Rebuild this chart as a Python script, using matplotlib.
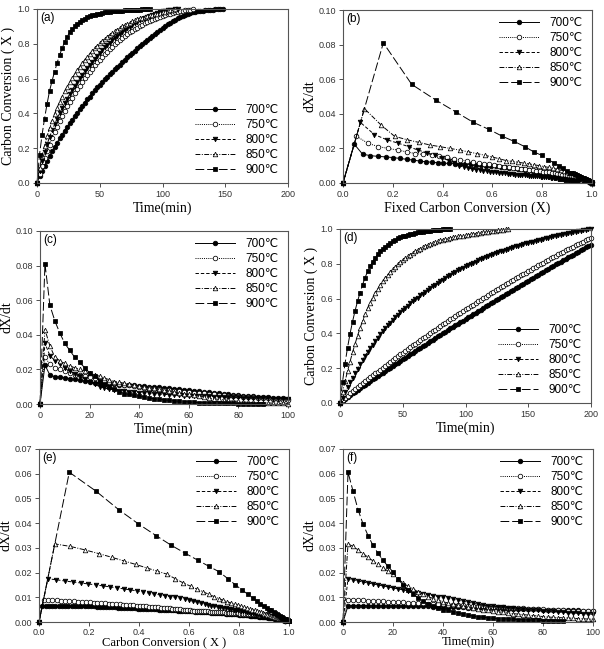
import matplotlib.pyplot as plt
from matplotlib.ticker import MultipleLocator, FormatStrFormatter
import numpy as np

DT = 2  # min between two records

temps = ['700', '750', '800', '850', '900']

# ---------------- run 1 : panels (a) (b) (c) ----------------
# carbon conversion vs time, panel (a)
conv1_700 = [0, 0.038, 0.071, 0.100, 0.129, 0.156, 0.182, 0.208, 0.232, 0.256, 0.278,
             0.301, 0.323, 0.343, 0.364, 0.385, 0.405, 0.424, 0.443, 0.462, 0.480,
             0.497, 0.515, 0.532, 0.549, 0.564, 0.580, 0.596, 0.611, 0.625, 0.639,
             0.653, 0.667, 0.681, 0.695, 0.708, 0.722, 0.734, 0.748, 0.760, 0.773,
             0.786, 0.798, 0.810, 0.822, 0.834, 0.846, 0.857, 0.868, 0.879, 0.890,
             0.901, 0.911, 0.920, 0.929, 0.938, 0.946, 0.953, 0.959, 0.966, 0.972,
             0.976, 0.980, 0.983, 0.986, 0.988, 0.991, 0.992, 0.995, 0.996, 0.997,
             0.998, 0.999, 0.999, 1.000]
conv1_750 = [0, 0.054, 0.100, 0.143, 0.183, 0.221, 0.257, 0.291, 0.323, 0.354, 0.384,
             0.413, 0.440, 0.466, 0.491, 0.515, 0.538, 0.560, 0.581, 0.601, 0.621,
             0.640, 0.658, 0.676, 0.693, 0.709, 0.725, 0.740, 0.755, 0.769, 0.783,
             0.796, 0.809, 0.821, 0.833, 0.844, 0.855, 0.865, 0.875, 0.884, 0.893,
             0.902, 0.910, 0.918, 0.925, 0.932, 0.939, 0.945, 0.951, 0.956, 0.961,
             0.966, 0.970, 0.974, 0.978, 0.981, 0.984, 0.987, 0.990, 0.992, 0.994,
             0.996, 1.000]
conv1_800 = [0, 0.070, 0.126, 0.176, 0.222, 0.264, 0.302, 0.337, 0.370, 0.400, 0.430,
             0.458, 0.485, 0.510, 0.535, 0.558, 0.580, 0.601, 0.622, 0.642, 0.661,
             0.680, 0.698, 0.715, 0.732, 0.748, 0.764, 0.779, 0.793, 0.807, 0.820,
             0.833, 0.845, 0.857, 0.868, 0.879, 0.889, 0.899, 0.908, 0.917, 0.926,
             0.934, 0.942, 0.949, 0.956, 0.962, 0.968, 0.973, 0.978, 0.982, 0.986,
             0.989, 0.992, 0.995, 0.997, 0.999, 1.000]
conv1_850 = [0, 0.086, 0.155, 0.215, 0.268, 0.315, 0.358, 0.397, 0.433, 0.466, 0.497,
             0.526, 0.553, 0.578, 0.602, 0.625, 0.647, 0.668, 0.688, 0.707, 0.725,
             0.742, 0.759, 0.774, 0.789, 0.803, 0.816, 0.829, 0.841, 0.852, 0.863,
             0.873, 0.882, 0.891, 0.900, 0.908, 0.915, 0.922, 0.929, 0.935, 0.941,
             0.946, 0.951, 0.956, 0.960, 0.964, 0.968, 0.971, 0.974, 0.977, 0.980,
             0.984, 0.988, 0.992, 0.996, 1.000]
conv1_900 = [0, 0.163, 0.275, 0.370, 0.454, 0.529, 0.587, 0.640, 0.690, 0.735, 0.775,
             0.810, 0.840, 0.865, 0.885, 0.900, 0.915, 0.927, 0.937, 0.945, 0.952,
             0.958, 0.963, 0.967, 0.971, 0.974, 0.977, 0.980, 0.982, 0.984, 0.986,
             0.988, 0.989, 0.990, 0.991, 0.992, 0.993, 0.994, 0.995, 0.996, 0.997,
             0.997, 0.998, 0.998, 0.999, 1.000]

# dX/dt vs time, panel (c)
rate1_700 = [0, 0.0225, 0.0167, 0.0158, 0.0154, 0.0151, 0.0147, 0.0142, 0.0137, 0.0132, 0.0127,
             0.0123, 0.0120, 0.0117, 0.0115, 0.0113, 0.0112, 0.0110, 0.0109, 0.0107, 0.0105,
             0.0103, 0.0101, 0.0099, 0.0096, 0.0093, 0.0091, 0.0088, 0.0085, 0.0082, 0.0079,
             0.0076, 0.0073, 0.0070, 0.0067, 0.0064, 0.0061, 0.0058, 0.0055, 0.0053, 0.0051,
             0.0049, 0.0047, 0.0045, 0.0043, 0.0041, 0.0039, 0.0037, 0.0035, 0.0033, 0.0031,
             0.0029, 0.0028, 0.0026, 0.0025, 0.0024, 0.0022, 0.0021, 0.0020, 0.0019, 0.0018,
             0.0017, 0.0016, 0.0015, 0.0014, 0.0013, 0.0012, 0.0011, 0.0010, 0.0009, 0.0008,
             0.0008, 0.0007, 0.0006, 0.0005]
rate1_750 = [0, 0.0270, 0.0230, 0.0210, 0.0200, 0.0190, 0.0180, 0.0170, 0.0165, 0.0163, 0.0158,
             0.0148, 0.0140, 0.0133, 0.0127, 0.0121, 0.0116, 0.0111, 0.0107, 0.0103, 0.0099,
             0.0095, 0.0091, 0.0088, 0.0085, 0.0082, 0.0079, 0.0076, 0.0073, 0.0070, 0.0068,
             0.0066, 0.0063, 0.0061, 0.0058, 0.0056, 0.0053, 0.0051, 0.0049, 0.0046, 0.0044,
             0.0042, 0.0040, 0.0038, 0.0036, 0.0034, 0.0032, 0.0030, 0.0028, 0.0026, 0.0024,
             0.0023, 0.0021, 0.0019, 0.0017, 0.0015, 0.0013, 0.0011, 0.0009, 0.0008, 0.0006,
             0.0005, 0.0004]
rate1_800 = [0, 0.0350, 0.0280, 0.0250, 0.0230, 0.0210, 0.0190, 0.0175, 0.0160, 0.0145, 0.0130,
             0.0115, 0.0100, 0.0092, 0.0086, 0.0082, 0.0078, 0.0075, 0.0072, 0.0069, 0.0066,
             0.0064, 0.0062, 0.0060, 0.0058, 0.0056, 0.0054, 0.0052, 0.0050, 0.0049, 0.0048,
             0.0047, 0.0046, 0.0045, 0.0044, 0.0043, 0.0042, 0.0041, 0.0040, 0.0039, 0.0038,
             0.0037, 0.0036, 0.0035, 0.0034, 0.0033, 0.0032, 0.0031, 0.0030, 0.0029, 0.0028,
             0.0027, 0.0026, 0.0025, 0.0024, 0.0023, 0.0022, 0.0021, 0.0020, 0.0019, 0.0018,
             0.0017, 0.0016, 0.0016, 0.0015, 0.0015, 0.0014, 0.0014, 0.0013, 0.0013, 0.0012,
             0.0012, 0.0012, 0.0011, 0.0011, 0.0011, 0.0010, 0.0010, 0.0010, 0.0009, 0.0009]
rate1_850 = [0, 0.0430, 0.0335, 0.0270, 0.0250, 0.0235, 0.0220, 0.0210, 0.0200, 0.0190, 0.0180,
             0.0170, 0.0160, 0.0150, 0.0140, 0.0130, 0.0125, 0.0120, 0.0115, 0.0110, 0.0105,
             0.0100, 0.0095, 0.0090, 0.0085, 0.0080, 0.0075, 0.0070, 0.0065, 0.0060, 0.0055,
             0.0050, 0.0045, 0.0040, 0.0035, 0.0030, 0.0027, 0.0024, 0.0021, 0.0018, 0.0015,
             0.0012, 0.0010, 0.0009, 0.0008, 0.0007, 0.0006, 0.0005, 0.0004, 0.0003, 0.0002,
             0.0002, 0.0001, 0.0001]
rate1_900 = [0, 0.0810, 0.0570, 0.0480, 0.0410, 0.0350, 0.0310, 0.0270, 0.0240, 0.0210, 0.0180,
             0.0160, 0.0135, 0.0115, 0.0100, 0.0085, 0.0070, 0.0060, 0.0055, 0.0050, 0.0045,
             0.0040, 0.0035, 0.0030, 0.0027, 0.0024, 0.0021, 0.0018, 0.0016, 0.0014, 0.0012,
             0.0009, 0.0008, 0.0007, 0.0006, 0.0005, 0.0004, 0.0004, 0.0003, 0.0003, 0.0002,
             0.0002, 0.0002, 0.0001, 0.0001, 0.0001]

# ---------------- run 2 : panels (d) (e) (f) ----------------
# carbon conversion vs time, panel (d)
conv2_700 = [0, 0.013, 0.025, 0.036, 0.046, 0.056, 0.066, 0.077, 0.087, 0.097, 0.106,
             0.116, 0.126, 0.136, 0.145, 0.155, 0.165, 0.175, 0.184, 0.194, 0.204,
             0.213, 0.223, 0.232, 0.242, 0.251, 0.261, 0.270, 0.280, 0.289, 0.299,
             0.308, 0.317, 0.327, 0.336, 0.346, 0.355, 0.364, 0.373, 0.383, 0.392,
             0.401, 0.410, 0.419, 0.429, 0.438, 0.447, 0.456, 0.465, 0.474, 0.483,
             0.492, 0.501, 0.510, 0.519, 0.528, 0.537, 0.546, 0.555, 0.564, 0.572,
             0.581, 0.590, 0.599, 0.608, 0.616, 0.625, 0.634, 0.643, 0.651, 0.660,
             0.669, 0.677, 0.686, 0.694, 0.703, 0.711, 0.720, 0.728, 0.737, 0.745,
             0.754, 0.762, 0.771, 0.779, 0.787, 0.796, 0.804, 0.812, 0.820, 0.829,
             0.837, 0.845, 0.853, 0.862, 0.870, 0.878, 0.886, 0.894, 0.902, 0.910]
conv2_750 = [0, 0.016, 0.030, 0.043, 0.056, 0.068, 0.079, 0.091, 0.103, 0.114, 0.126,
             0.137, 0.148, 0.159, 0.170, 0.181, 0.192, 0.203, 0.214, 0.225, 0.236,
             0.247, 0.257, 0.268, 0.279, 0.289, 0.300, 0.310, 0.320, 0.331, 0.341,
             0.351, 0.362, 0.372, 0.382, 0.392, 0.402, 0.412, 0.422, 0.432, 0.442,
             0.452, 0.462, 0.471, 0.481, 0.491, 0.500, 0.510, 0.519, 0.529, 0.538,
             0.547, 0.557, 0.566, 0.575, 0.584, 0.594, 0.603, 0.612, 0.621, 0.630,
             0.639, 0.647, 0.656, 0.665, 0.674, 0.682, 0.691, 0.700, 0.708, 0.717,
             0.725, 0.733, 0.742, 0.750, 0.758, 0.767, 0.775, 0.783, 0.791, 0.799,
             0.807, 0.815, 0.823, 0.831, 0.838, 0.846, 0.854, 0.862, 0.869, 0.877,
             0.884, 0.892, 0.899, 0.907, 0.914, 0.921, 0.928, 0.936, 0.943, 0.950]
conv2_800 = [0, 0.031, 0.061, 0.090, 0.118, 0.145, 0.172, 0.198, 0.223, 0.247, 0.270,
             0.293, 0.315, 0.336, 0.356, 0.376, 0.395, 0.413, 0.430, 0.446, 0.462,
             0.478, 0.492, 0.507, 0.521, 0.534, 0.547, 0.560, 0.572, 0.584, 0.595,
             0.606, 0.618, 0.629, 0.639, 0.650, 0.660, 0.671, 0.681, 0.690, 0.700,
             0.709, 0.719, 0.728, 0.736, 0.745, 0.753, 0.762, 0.770, 0.777, 0.785,
             0.792, 0.800, 0.807, 0.813, 0.820, 0.826, 0.833, 0.839, 0.844, 0.850,
             0.855, 0.861, 0.866, 0.871, 0.876, 0.881, 0.886, 0.890, 0.895, 0.900,
             0.904, 0.908, 0.912, 0.917, 0.921, 0.924, 0.928, 0.932, 0.936, 0.939,
             0.943, 0.947, 0.950, 0.953, 0.957, 0.960, 0.963, 0.967, 0.970, 0.973,
             0.976, 0.979, 0.982, 0.984, 0.987, 0.990, 0.992, 0.995, 0.998, 1.000]
conv2_850 = [0, 0.063, 0.124, 0.183, 0.238, 0.291, 0.340, 0.387, 0.430, 0.472, 0.510,
             0.545, 0.577, 0.606, 0.633, 0.657, 0.679, 0.700, 0.719, 0.737, 0.753,
             0.768, 0.783, 0.796, 0.809, 0.821, 0.832, 0.843, 0.853, 0.862, 0.871,
             0.879, 0.887, 0.894, 0.901, 0.908, 0.914, 0.919, 0.924, 0.929, 0.934,
             0.938, 0.941, 0.945, 0.948, 0.952, 0.955, 0.957, 0.960, 0.962, 0.965,
             0.967, 0.969, 0.971, 0.973, 0.976, 0.978, 0.980, 0.982, 0.984, 0.986,
             0.988, 0.990, 0.992, 0.994, 0.996, 0.998, 1.000]
conv2_900 = [0, 0.121, 0.227, 0.318, 0.398, 0.468, 0.530, 0.585, 0.635, 0.680, 0.721,
             0.756, 0.786, 0.812, 0.834, 0.854, 0.871, 0.886, 0.899, 0.910, 0.920,
             0.930, 0.938, 0.946, 0.952, 0.958, 0.962, 0.967, 0.970, 0.974, 0.977,
             0.980, 0.982, 0.985, 0.987, 0.989, 0.991, 0.992, 0.994, 0.995, 0.996,
             0.998, 0.999, 0.999, 1.000]

# dX/dt vs time, panel (f)
rate2_700 = [0, 0.0065, 0.0066, 0.0066, 0.0066, 0.0066, 0.0065, 0.0065, 0.0065, 0.0065, 0.0065,
             0.0065, 0.0064, 0.0064, 0.0064, 0.0063, 0.0063, 0.0063, 0.0062, 0.0062, 0.0062,
             0.0061, 0.0060, 0.0060, 0.0059, 0.0058, 0.0058, 0.0057, 0.0056, 0.0056, 0.0055,
             0.0055, 0.0054, 0.0054, 0.0053, 0.0053, 0.0052, 0.0052, 0.0051, 0.0051, 0.0050,
             0.0050, 0.0049, 0.0049, 0.0048, 0.0048, 0.0047, 0.0047, 0.0046, 0.0046, 0.0045,
             0.0045, 0.0044, 0.0044, 0.0043, 0.0043, 0.0042, 0.0042, 0.0041, 0.0041, 0.0040,
             0.0040, 0.0039, 0.0039, 0.0038, 0.0038, 0.0037, 0.0037, 0.0036, 0.0036, 0.0035,
             0.0035, 0.0034, 0.0034, 0.0033, 0.0033, 0.0032, 0.0032, 0.0031, 0.0031, 0.0030,
             0.0030, 0.0029, 0.0029, 0.0028, 0.0028, 0.0027, 0.0027, 0.0026, 0.0026, 0.0025,
             0.0025, 0.0024, 0.0024, 0.0023, 0.0023, 0.0022, 0.0022, 0.0021, 0.0021, 0.0020,
             0.0020, 0.0020, 0.0019, 0.0019, 0.0018, 0.0018, 0.0017, 0.0017, 0.0016, 0.0016,
             0.0015, 0.0015, 0.0014, 0.0014, 0.0013, 0.0013, 0.0012, 0.0012, 0.0011, 0.0011]
rate2_750 = [0, 0.0090, 0.0089, 0.0088, 0.0087, 0.0086, 0.0085, 0.0084, 0.0083, 0.0082, 0.0081,
             0.0080, 0.0079, 0.0078, 0.0077, 0.0076, 0.0075, 0.0074, 0.0073, 0.0072, 0.0071,
             0.0070, 0.0069, 0.0068, 0.0067, 0.0066, 0.0065, 0.0064, 0.0063, 0.0062, 0.0061,
             0.0060, 0.0059, 0.0058, 0.0057, 0.0056, 0.0055, 0.0054, 0.0053, 0.0052, 0.0051,
             0.0050, 0.0049, 0.0048, 0.0047, 0.0046, 0.0046, 0.0045, 0.0045, 0.0044, 0.0044,
             0.0043, 0.0043, 0.0042, 0.0042, 0.0041, 0.0041, 0.0040, 0.0040, 0.0039, 0.0039,
             0.0038, 0.0038, 0.0037, 0.0037, 0.0036, 0.0036, 0.0035, 0.0035, 0.0034, 0.0034,
             0.0034, 0.0034, 0.0033, 0.0033, 0.0033, 0.0032, 0.0032, 0.0032, 0.0031, 0.0031,
             0.0030, 0.0030, 0.0029, 0.0029, 0.0028, 0.0028, 0.0027, 0.0026, 0.0025, 0.0024,
             0.0023, 0.0022, 0.0021, 0.0020, 0.0019, 0.0018, 0.0017, 0.0016, 0.0015, 0.0014,
             0.0013, 0.0012, 0.0011, 0.0010, 0.0009, 0.0008, 0.0007, 0.0006, 0.0005, 0.0005]
rate2_800 = [0, 0.0175, 0.0171, 0.0166, 0.0162, 0.0158, 0.0154, 0.0150, 0.0146, 0.0142, 0.0138,
             0.0134, 0.0130, 0.0126, 0.0122, 0.0117, 0.0113, 0.0110, 0.0106, 0.0103, 0.0100,
             0.0096, 0.0092, 0.0088, 0.0084, 0.0080, 0.0076, 0.0072, 0.0069, 0.0066, 0.0063,
             0.0061, 0.0059, 0.0057, 0.0055, 0.0053, 0.0051, 0.0049, 0.0048, 0.0047, 0.0046,
             0.0044, 0.0043, 0.0041, 0.0040, 0.0038, 0.0037, 0.0035, 0.0034, 0.0032, 0.0031,
             0.0030, 0.0029, 0.0028, 0.0027, 0.0026, 0.0025, 0.0024, 0.0023, 0.0022, 0.0021,
             0.0020, 0.0019, 0.0018, 0.0017, 0.0016, 0.0015, 0.0014, 0.0013, 0.0012, 0.0011,
             0.0010, 0.0010, 0.0009, 0.0009, 0.0008, 0.0008, 0.0007, 0.0007, 0.0006, 0.0006]
rate2_850 = [0, 0.0316, 0.0306, 0.0292, 0.0277, 0.0262, 0.0247, 0.0233, 0.0219, 0.0206, 0.0194,
             0.0175, 0.0158, 0.0145, 0.0133, 0.0122, 0.0112, 0.0103, 0.0095, 0.0088, 0.0082,
             0.0077, 0.0072, 0.0068, 0.0064, 0.0060, 0.0056, 0.0053, 0.0050, 0.0047, 0.0044,
             0.0041, 0.0039, 0.0036, 0.0034, 0.0032, 0.0030, 0.0028, 0.0026, 0.0024, 0.0022,
             0.0020, 0.0019, 0.0018, 0.0017, 0.0016, 0.0015, 0.0014, 0.0013, 0.0012, 0.0011,
             0.0011, 0.0011, 0.0011, 0.0011, 0.0011, 0.0011, 0.0011, 0.0010, 0.0010, 0.0010,
             0.0010, 0.0010, 0.0010, 0.0010, 0.0010, 0.0010, 0.0009]
rate2_900 = [0, 0.0606, 0.0530, 0.0455, 0.0397, 0.0350, 0.0310, 0.0278, 0.0250, 0.0225, 0.0203,
             0.0175, 0.0150, 0.0130, 0.0113, 0.0098, 0.0085, 0.0074, 0.0065, 0.0057, 0.0050,
             0.0048, 0.0042, 0.0037, 0.0032, 0.0028, 0.0024, 0.0021, 0.0019, 0.0017, 0.0015,
             0.0014, 0.0013, 0.0012, 0.0011, 0.0010, 0.0009, 0.0008, 0.0008, 0.0007, 0.0006,
             0.0006, 0.0005, 0.0004, 0.0004]

conv1 = [conv1_700, conv1_750, conv1_800, conv1_850, conv1_900]
rate1 = [rate1_700, rate1_750, rate1_800, rate1_850, rate1_900]
conv2 = [conv2_700, conv2_750, conv2_800, conv2_850, conv2_900]
rate2 = [rate2_700, rate2_750, rate2_800, rate2_850, rate2_900]

styles = [dict(ls='-', marker='o', mfc='black'),
          dict(ls=(0, (1, 1.2)), marker='o', mfc='white'),
          dict(ls=(0, (3.5, 2)), marker='v', mfc='black'),
          dict(ls=(0, (5, 1.5, 1, 1.5)), marker='^', mfc='white'),
          dict(ls=(0, (9, 3)), marker='s', mfc='black')]

SANS = ['Liberation Sans', 'DejaVu Sans']
SERIF = 'Liberation Serif'
plt.rcParams['font.family'] = SANS
FRAME = '#555555'

fig = plt.figure(figsize=(6.04, 6.49), dpi=100)
W, H = 604.0, 649.0


def box(l, t, r, b):
    return fig.add_axes([l / W, 1 - b / H, (r - l) / W, (b - t) / H])


def times(vals):
    return np.arange(len(vals)) * DT


def fixed(rate):
    # fixed carbon conversion: running total of the recorded rate
    return DT * np.cumsum(rate)


def draw(ax, xs, ys, xmax):
    for x, y, st, t in zip(xs, ys, styles, temps):
        x = np.asarray(x, float)
        y = np.asarray(y, float)
        keep = x <= xmax * 1.002
        ax.plot(x[keep], y[keep], color='black', lw=0.7, ms=3.3, mec='black',
                mew=0.55, clip_on=False, label=t + '℃', **st)


def dress(ax, tag, xmax, xstep, xfmt, ymax, ystep, yfmt, xlabel, ylabel,
          loc, anchor, bottom_row=False):
    ax.set_xlim(0, xmax)
    ax.set_ylim(0, ymax)
    ax.xaxis.set_major_locator(MultipleLocator(xstep))
    ax.yaxis.set_major_locator(MultipleLocator(ystep))
    ax.xaxis.set_major_formatter(FormatStrFormatter(xfmt))
    ax.yaxis.set_major_formatter(FormatStrFormatter(yfmt))
    ax.tick_params(direction='out', length=3, width=0.6, labelsize=6.5,
                   colors='#333333', pad=2)
    for s in ax.spines.values():
        s.set_color(FRAME)
        s.set_linewidth(0.8)
    if bottom_row:
        # squeeze the label into the few pixels left under the panel
        ax.tick_params(axis='x', pad=1.2)
        ax.set_xlabel(xlabel, family=SERIF, fontsize=9, va='top')
        ax.xaxis.set_label_coords(0.5, -0.083)
    else:
        ax.set_xlabel(xlabel, family=SERIF, fontsize=10, labelpad=2)
    ax.set_ylabel(ylabel, family=SERIF, fontsize=10, labelpad=1.5)
    ax.text(0.012, 0.985, tag, transform=ax.transAxes, va='top', ha='left',
            fontsize=8.5)
    ax.legend(loc=loc, bbox_to_anchor=anchor, frameon=False, fontsize=8.5,
              handlelength=3.4, handletextpad=0.9, labelspacing=0.25,
              numpoints=1, borderaxespad=0.2)


# (a)
ax = box(37, 9, 288, 183)
draw(ax, [times(c) for c in conv1], conv1, 200)
dress(ax, '(a)', 200, 50, '%d', 1.0, 0.2, '%.1f', 'Time(min)',
      'Carbon Conversion ( X )', 'lower right', (0.99, 0.0))

# (b)
ax = box(343, 10, 592, 183)
draw(ax, [fixed(r) for r in rate1], rate1, 1.0)
dress(ax, '(b)', 1.0, 0.2, '%.1f', 0.10, 0.02, '%.2f',
      'Fixed Carbon Conversion (X)', 'dX/dt', 'upper right', (0.99, 1.0))

# (c)
ax = box(40, 231, 288, 404)
draw(ax, [times(r) for r in rate1], rate1, 100)
dress(ax, '(c)', 100, 20, '%d', 0.10, 0.02, '%.2f', 'Time(min)', 'dX/dt',
      'upper right', (0.99, 1.0))

# (d)
ax = box(340, 229, 591, 403)
draw(ax, [times(c) for c in conv2], conv2, 200)
dress(ax, '(d)', 200, 50, '%d', 1.0, 0.2, '%.1f', 'Time(min)',
      'Carbon Conversion ( X )', 'lower right', (0.99, 0.0))

# (e)
ax = box(39, 449, 289, 622)
draw(ax, [fixed(r) for r in rate2], rate2, 1.0)
dress(ax, '(e)', 1.0, 0.2, '%.1f', 0.07, 0.01, '%.2f',
      'Carbon Conversion ( X )', 'dX/dt', 'upper right', (0.99, 1.0),
      bottom_row=True)

# (f)
ax = box(343, 449, 593, 622)
draw(ax, [times(r) for r in rate2], rate2, 100)
dress(ax, '(f)', 100, 20, '%d', 0.07, 0.01, '%.2f', 'Time(min)', 'dX/dt',
      'upper right', (0.99, 1.0), bottom_row=True)

fig.savefig('out.png', dpi=100)
